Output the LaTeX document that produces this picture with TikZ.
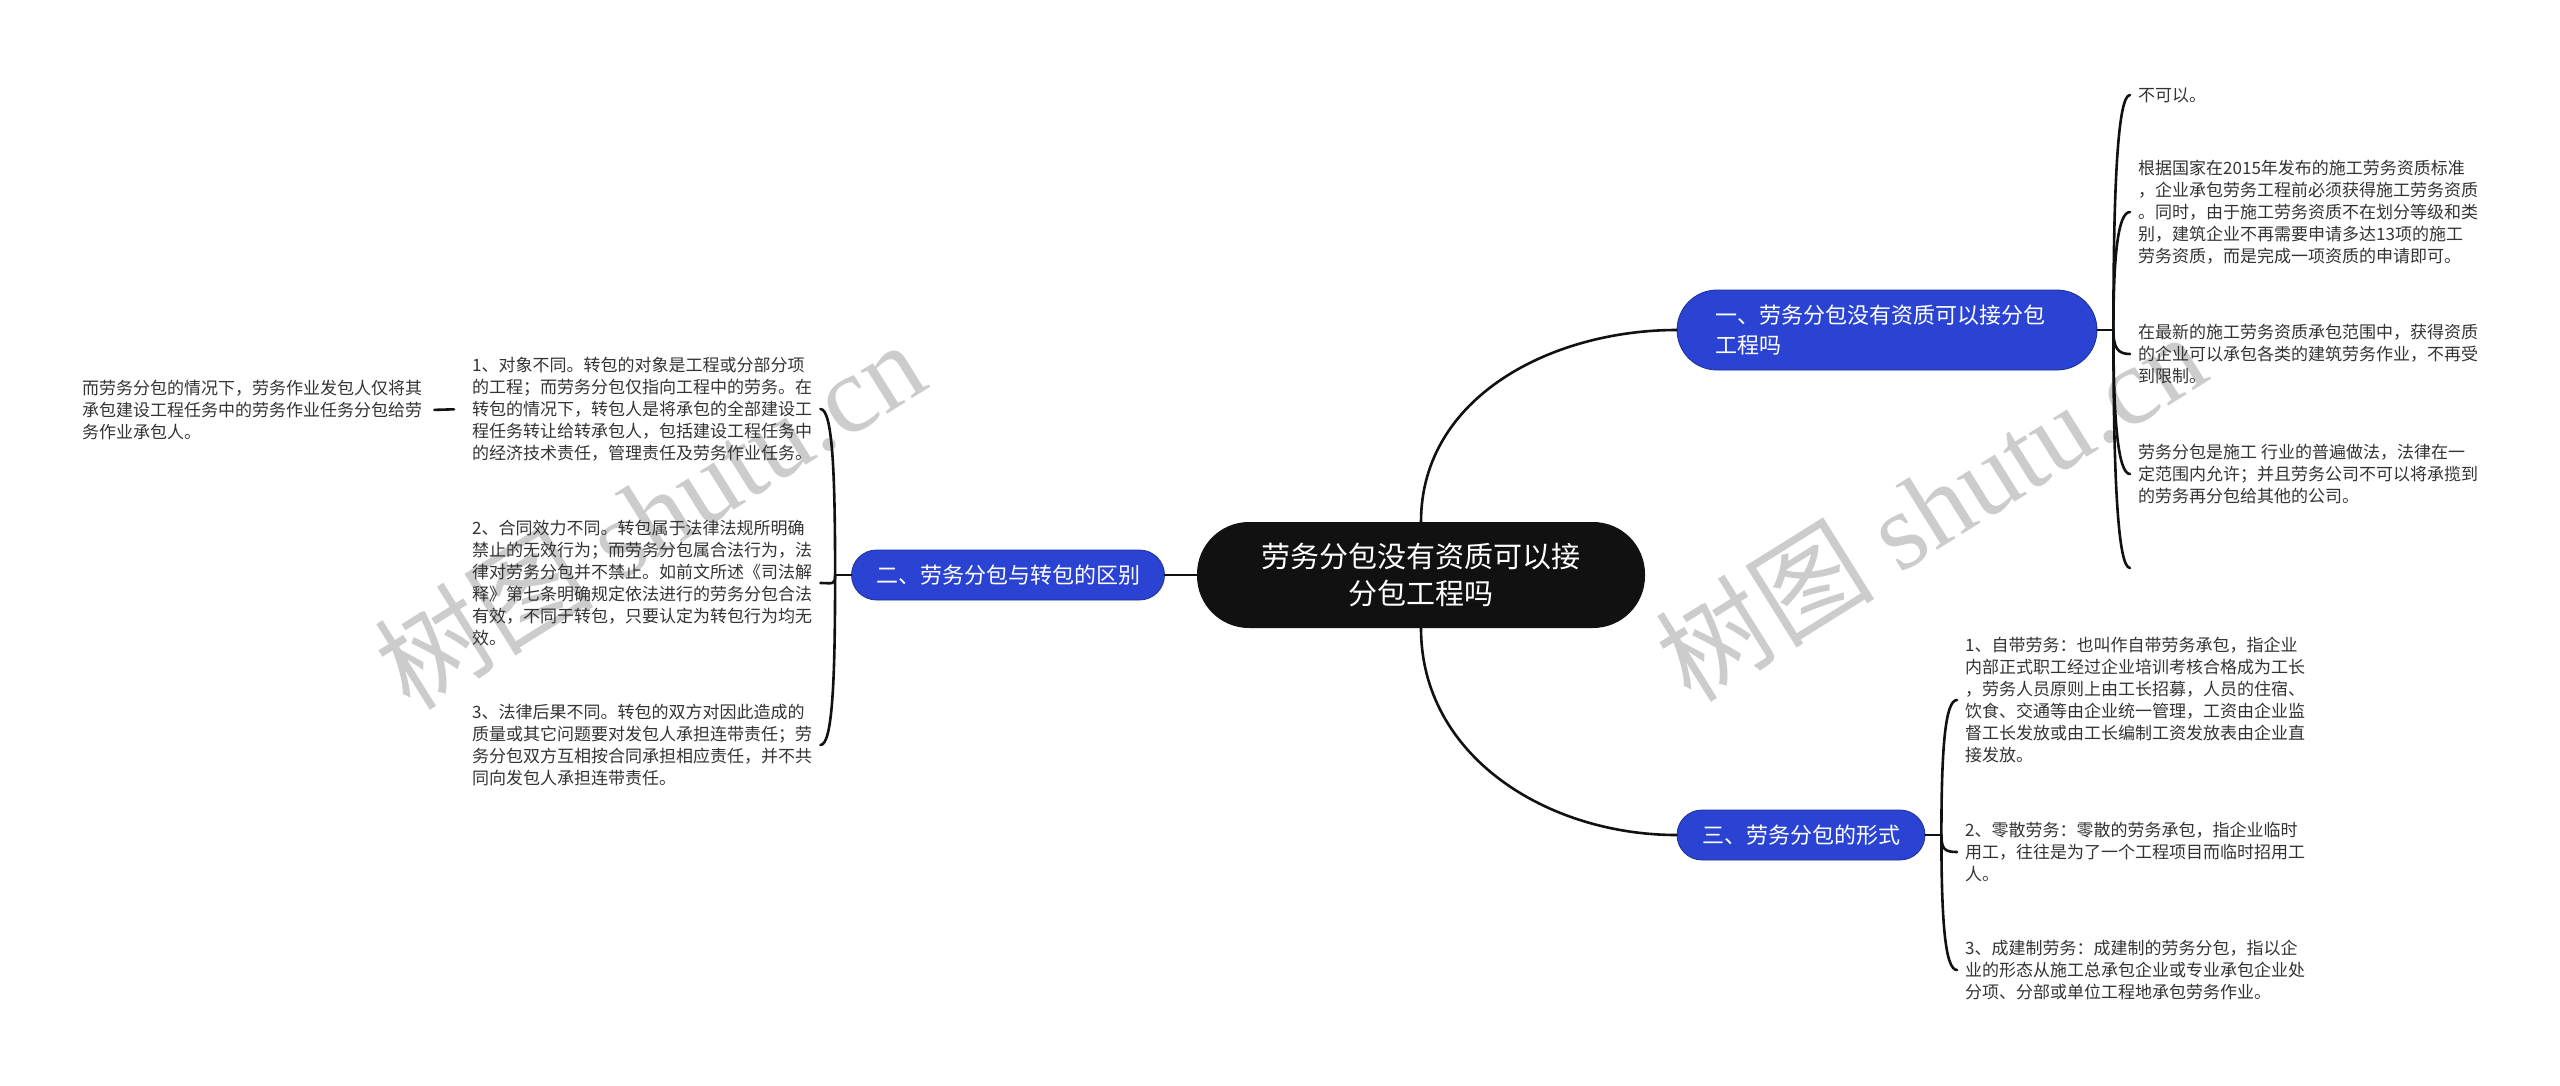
\documentclass[tikz,border=0pt]{standalone}
\usepackage{fontspec}
\setmainfont{Noto Sans CJK SC}
\newfontfamily\wmfont{Liberation Serif}
\usepackage{tikz}
\usetikzlibrary{positioning}
\usepackage{xcolor}
\definecolor{mapblue}{HTML}{2A43D3}
\definecolor{rootblack}{HTML}{111111}
\definecolor{leafgray}{HTML}{333333}

\begin{document}
\begin{tikzpicture}[x=1pt,y=-1pt,line cap=round,
  root/.style={fill=rootblack,text=white,rounded corners=52pt,minimum width=448pt,minimum height=106pt,align=center,font=\fontsize{29}{37}\selectfont},
  branch/.style={fill=mapblue,draw=mapblue!70!black,line width=0.8pt,text=white,minimum height=50pt,rounded corners=25pt,font=\fontsize{22}{30}\selectfont},
  leaf/.style={anchor=west,align=left,inner sep=8pt,text=leafgray,font=\fontsize{17}{22}\selectfont},
  wmark/.style={text=black!20,font=\fontsize{110}{110}\selectfont},
  link/.style={draw=rootblack,line width=2.6pt},
  hookup/.style={out=90,in=180,out looseness=1.6,in distance=12pt},
  hookdown/.style={out=270,in=180,out looseness=1.6,in distance=12pt},
  hookupl/.style={out=90,in=0,out looseness=1.6,in distance=12pt},
  hookdownl/.style={out=270,in=0,out looseness=1.6,in distance=12pt}]
\useasboundingbox (0,0) rectangle (2560,1085);
% watermarks
\node[wmark,rotate=32] (wm1) at (649,514) {树图 {\wmfont shutu.cn}};
\node[wmark,rotate=32] (wm2) at (1930,506) {树图 {\wmfont shutu.cn}};
% root and branches
\node[root] (root) at (1421,575) {劳务分包没有资质可以接\\分包工程吗};
\node[branch,text width=344pt,inner xsep=38pt,minimum height=80pt,rounded corners=40pt,align=left] (b1) at (1887,330) {一、劳务分包没有资质可以接分包\\工程吗};
\node[branch,minimum width=313pt] (b2) at (1008,575) {二、劳务分包与转包的区别};
\node[branch,minimum width=248pt] (b3) at (1801,835) {三、劳务分包的形式};
\draw[link] (root.north) to[out=90,in=180] (b1.west);
\draw[link] (root.west) -- (b2.east);
\draw[link] (root.south) to[out=270,in=180] (b3.west);
% branch 1
\node[leaf] (l1a) at (2130,95) {不可以。};
\node[leaf] (l1b) at (2130,212) {根据国家在2015年发布的施工劳务资质标准\\，企业承包劳务工程前必须获得施工劳务资质\\。同时，由于施工劳务资质不在划分等级和类\\别，建筑企业不再需要申请多达13项的施工\\劳务资质，而是完成一项资质的申请即可。};
\node[leaf] (l1c) at (2130,354) {在最新的施工劳务资质承包范围中，获得资质\\的企业可以承包各类的建筑劳务作业，不再受\\到限制。};
\node[leaf] (l1d) at (2130,474) {劳务分包是施工 行业的普遍做法，法律在一\\定范围内允许；并且劳务公司不可以将承揽到\\的劳务再分包给其他的公司。};
\coordinate (l1e) at (2130,568);
\draw[link] (b1.east) -- ++(16,0) coordinate (j1);
\draw[link] (j1) to[hookup] (l1a.west);
\draw[link] (j1) to[hookup] (l1b.west);
\draw[link] (j1) to[hookdown] (l1c.west);
\draw[link] (j1) to[hookdown] (l1d.west);
\draw[link] (j1) to[hookdown] (l1e);
% branch 2
\node[leaf] (l2a) at (464,409) {1、对象不同。转包的对象是工程或分部分项\\的工程；而劳务分包仅指向工程中的劳务。在\\转包的情况下，转包人是将承包的全部建设工\\程任务转让给转承包人，包括建设工程任务中\\的经济技术责任，管理责任及劳务作业任务。};
\node[leaf] (l2b) at (464,583) {2、合同效力不同。转包属于法律法规所明确\\禁止的无效行为；而劳务分包属合法行为，法\\律对劳务分包并不禁止。如前文所述《司法解\\释》第七条明确规定依法进行的劳务分包合法\\有效，不同于转包，只要认定为转包行为均无\\效。};
\node[leaf] (l2c) at (464,745) {3、法律后果不同。转包的双方对因此造成的\\质量或其它问题要对发包人承担连带责任；劳\\务分包双方互相按合同承担相应责任，并不共\\同向发包人承担连带责任。};
\node[leaf] (l2a1) at (74,410) {而劳务分包的情况下，劳务作业发包人仅将其\\承包建设工程任务中的劳务作业任务分包给劳\\务作业承包人。};
\draw[link] (b2.west) -- ++(-16,0) coordinate (j2);
\draw[link] (j2) to[hookupl] (l2a.east);
\draw[link] (j2) to[hookdownl] (l2b.east);
\draw[link] (j2) to[hookdownl] (l2c.east);
\draw[link,shorten >=4pt,shorten <=10pt] (l2a.west) -- (l2a1.east);
% branch 3
\node[leaf] (l3a) at (1957,700) {1、自带劳务：也叫作自带劳务承包，指企业\\内部正式职工经过企业培训考核合格成为工长\\，劳务人员原则上由工长招募，人员的住宿、\\饮食、交通等由企业统一管理，工资由企业监\\督工长发放或由工长编制工资发放表由企业直\\接发放。};
\node[leaf] (l3b) at (1957,852) {2、零散劳务：零散的劳务承包，指企业临时\\用工，往往是为了一个工程项目而临时招用工\\人。};
\node[leaf] (l3c) at (1957,970) {3、成建制劳务：成建制的劳务分包，指以企\\业的形态从施工总承包企业或专业承包企业处\\分项、分部或单位工程地承包劳务作业。};
\draw[link] (b3.east) -- ++(16,0) coordinate (j3);
\draw[link] (j3) to[hookup] (l3a.west);
\draw[link] (j3) to[hookdown] (l3b.west);
\draw[link] (j3) to[hookdown] (l3c.west);
\end{tikzpicture}
\end{document}
